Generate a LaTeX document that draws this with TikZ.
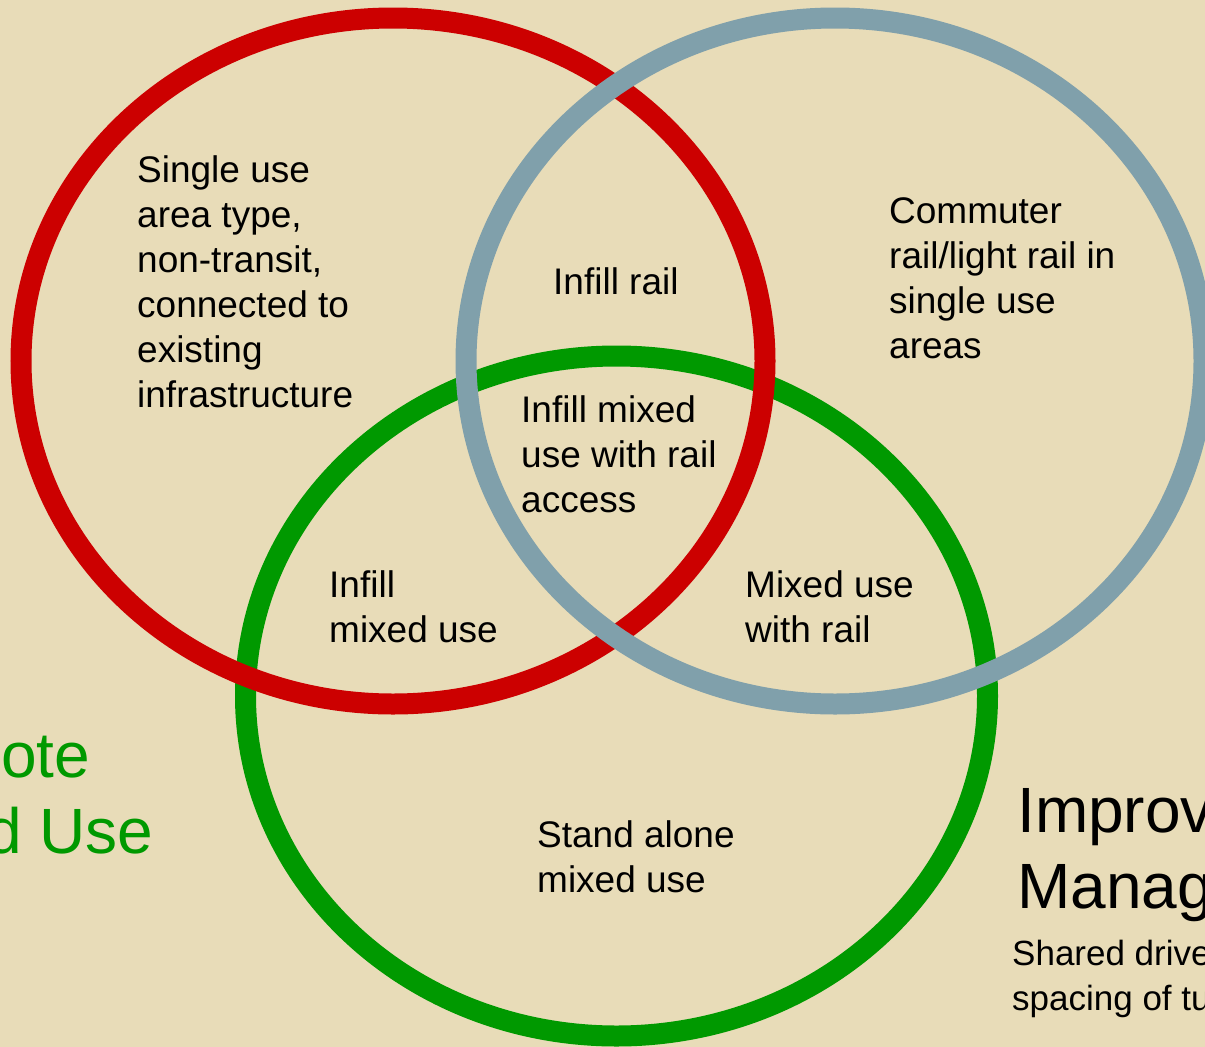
\documentclass[tikz,border=0pt]{standalone}
\usepackage{fontspec}
\setmainfont{Liberation Sans}
\usetikzlibrary{positioning}
\definecolor{paper}{RGB}{232,220,184}
\definecolor{ringred}{RGB}{204,0,0}
\definecolor{ringgrey}{RGB}{128,160,171}
\definecolor{ringgreen}{RGB}{0,153,0}

\begin{document}
\begin{tikzpicture}[x=1pt, y=-1pt,
        ring/.style={line width=21pt},
        area/.style={anchor=north west, inner sep=0pt, align=left, font=\fontsize{37}{45}\selectfont},
        title/.style={inner sep=0pt, align=left, font=\fontsize{64}{76}\selectfont},
        small/.style={anchor=north west, inner sep=0pt, align=left, font=\fontsize{35}{45}\selectfont}]
        \useasboundingbox (0,0) rectangle (1205,1047);
        \fill[paper] (0,0) rectangle (1205,1047);
        \clip (0,0) rectangle (1205,1047);

        % the three rings
        \draw[ring,ringgreen] (616.5,696) ellipse [x radius=371pt, y radius=340pt];
        \draw[ring,ringred] (393,361) ellipse [x radius=372pt, y radius=343pt];
        \draw[ring,ringgrey] (835,361) ellipse [x radius=369pt, y radius=343pt];

        \node[area] (single) at (137,155) {Single use\\area type,\\non-transit,\\connected to\\existing\\infrastructure};
        \node[area] (rail) at (553,267) {Infill rail};
        \node[area] (commuter) at (889,197) {Commuter\\rail/light rail in\\single use\\areas};
        \node[area] (center) at (521,395) {Infill mixed\\use with rail\\access};
        \node[area] (infill) at (329,570) {Infill\\mixed use};
        \node[area] (mixrail) at (745,570) {Mixed use\\with rail};
        \node[area] (alone) at (537,820) {Stand alone\\mixed use};

        \node[title,anchor=base west,text=ringgreen] (landA) at (1,777) {ote};
        \node[title,anchor=base west,text=ringgreen] (landB) at (-14,853) {d Use};

        \node[title,anchor=north west] (manage) at (1017,788) {Improv\\Manag};
        \node[small] (manageNote) at (1012,940) {Shared drive\\spacing of tu};
    \end{tikzpicture}
\end{document}
